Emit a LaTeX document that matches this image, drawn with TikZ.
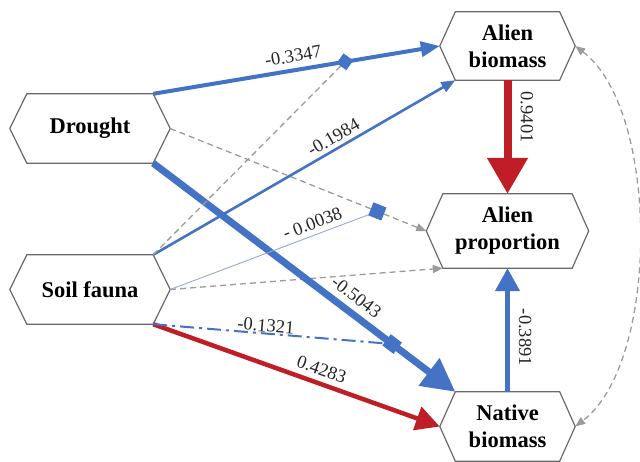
\documentclass[tikz,border=0pt]{standalone}
\usepackage{fontspec}
\setmainfont{Liberation Serif}
\usetikzlibrary{arrows.meta,calc}
\definecolor{eblue}{RGB}{68,114,196}
\definecolor{ered}{RGB}{192,30,38}
\definecolor{egray}{RGB}{155,155,155}
\definecolor{hexgray}{RGB}{105,105,105}
\definecolor{lblue}{RGB}{150,165,225}
\newcommand\hexborder[2]{%
  \draw[hexline] (#1.north west) -- (#1.north east)
    -- ($(#1.east)+(#2,0)$) coordinate (#1-e)
    -- (#1.south east) -- (#1.south west)
    -- ($(#1.west)-(#2,0)$) coordinate (#1-w) -- cycle;}
\begin{document}
\begin{tikzpicture}[x=1pt,y=-1pt,
  hexbox/.style={rectangle, inner sep=0pt, align=center,
    font=\bfseries\fontsize{22.5}{27}\selectfont},
  hexline/.style={draw=hexgray, line width=1.2pt, line join=miter},
  lab/.style={font=\fontsize{18.5}{20}\selectfont, text=black!85, anchor=south},
  gdash/.style={draw=egray, line width=1.3pt, dash pattern=on 6pt off 4pt},
  gtip/.style={-{Triangle[length=10pt,width=8pt]}, egray},
  bline/.style={draw=eblue, eblue},
  rline/.style={draw=ered, ered},
  marker/.style={rectangle, fill=eblue, inner sep=0pt, draw=none}]
\useasboundingbox (0,0) rectangle (640,462);

% nodes
\node[hexbox, minimum width=126pt, minimum height=69pt] (dr) at (90,128.5) {Drought};
\node[hexbox, minimum width=126pt, minimum height=69pt] (sf) at (90,289.5) {Soil fauna};
\node[hexbox, minimum width=104pt, minimum height=68pt] (ab) at (507.5,46) {Alien\\biomass};
\node[hexbox, minimum width=129pt, minimum height=74pt] (ap) at (507.5,231) {Alien\\proportion};
\node[hexbox, minimum width=104pt, minimum height=69pt] (nb) at (507.5,426.5) {Native\\biomass};
\hexborder{dr}{17}
\hexborder{sf}{17}
\hexborder{ab}{15.5}
\hexborder{ap}{16.5}
\hexborder{nb}{15.5}

% main paths
\draw[bline, line width=4pt, -{Triangle[length=19pt,width=15pt]}] (dr.north east)
  -- node[lab, pos=0.497, rotate=9.7, inner sep=6pt] {-0.3347}
     coordinate[pos=0.669] (m1c) (ab-w);
\draw[gdash, gtip] (dr-e) -- coordinate[pos=0.809] (m2c) (ap-w);
\draw[bline, line width=2.6pt, -{Triangle[length=14pt,width=11pt]}] (sf.north east)
  -- node[lab, pos=0.616, rotate=30.1, inner sep=4pt] {-0.1984} (ab.south west);
\draw[gdash, gtip] (sf-e) -- (ap.south west);
\draw[rline, line width=4.5pt, -{Triangle[length=24pt,width=24pt]}] (sf.south east)
  -- node[lab, pos=0.571, rotate=-19.65, inner sep=5.5pt] {0.4283} (nb-w);
\draw[bline, line width=7pt, -{Triangle[length=33pt,width=33pt]}] (dr.south east)
  -- node[lab, pos=0.641, rotate=-37.2, inner sep=6.2pt] {-0.5043}
     coordinate[pos=0.791] (m3c) (nb.north west);
\draw[rline, line width=8pt, -{Triangle[length=36pt,width=39pt]}] (ab.south)
  -- node[lab, pos=0.325, rotate=-90, inner sep=9pt] {0.9401} (ap.north);
\draw[bline, line width=4.5pt, -{Triangle[length=23pt,width=24pt]}] (nb.north)
  -- node[lab, pos=0.44, rotate=-90, inner sep=9pt] {-0.3891} (ap.south);

% moderator lines
\draw[gdash] (sf.north east) -- (m1c);
\draw[draw=lblue, line width=0.9pt] (sf-e)
  -- node[lab, pos=0.706, rotate=20.6, inner sep=5pt] {- 0.0038} (m2c);
\draw[bline, line width=2pt, dash pattern=on 14pt off 5pt on 3pt off 5pt] (sf.south east)
  -- node[lab, pos=0.469, rotate=-4.8, inner sep=0.5pt] {-0.1321} (m3c);

% markers
\node[marker, minimum size=12pt, rotate=54.7] (m1) at (m1c) {};
\node[marker, minimum size=14pt, rotate=-21.7] (m2) at (m2c) {};
\node[marker, minimum size=14pt, rotate=-37.2] (m3) at (m3c) {};

% correlation curve
\draw[gdash, {Triangle[length=10pt,width=8pt]}-{Triangle[length=10pt,width=8pt]}, egray]
  (ab-e) .. controls (660,110) and (660,362) .. (nb-e);
\end{tikzpicture}
\end{document}
